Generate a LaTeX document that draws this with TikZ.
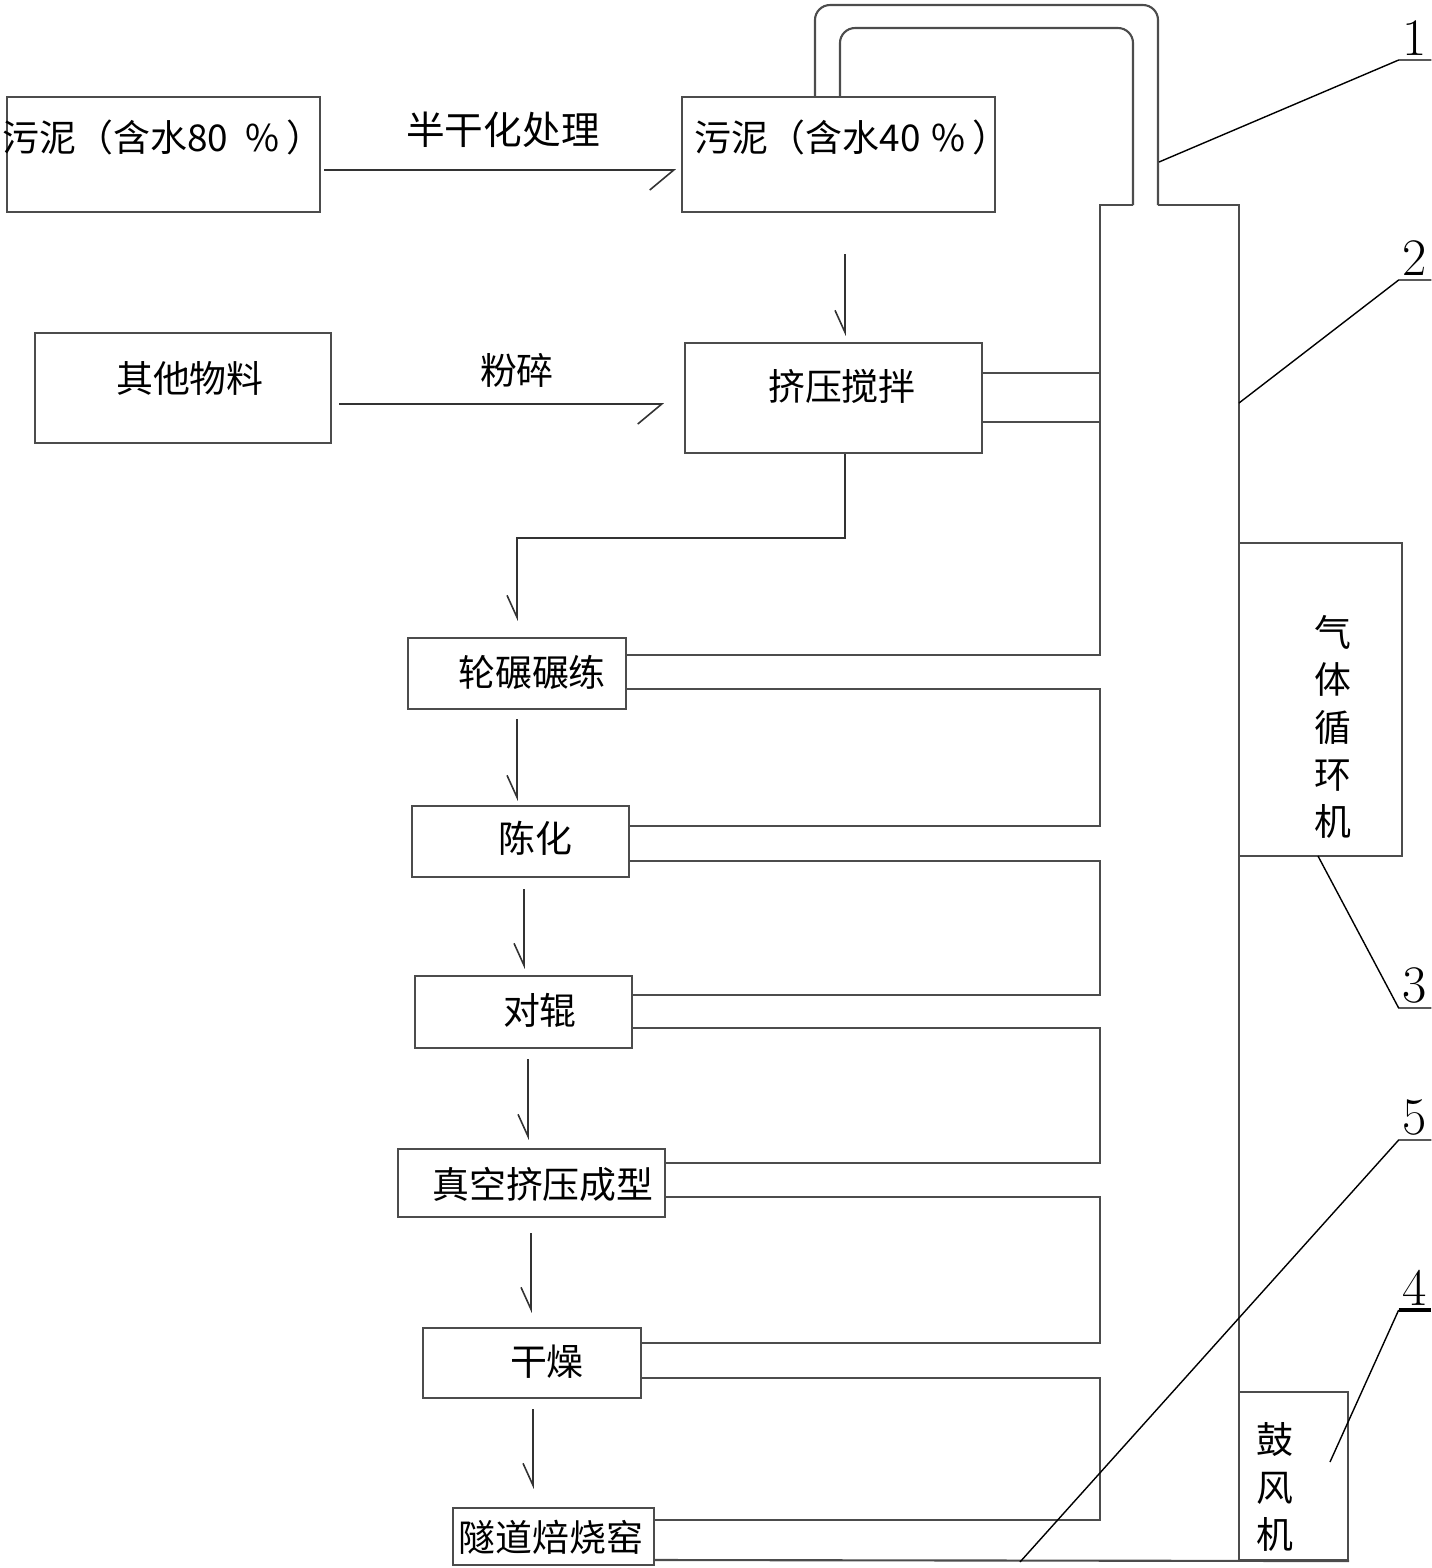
\documentclass[tikz,border=0pt]{standalone}
\usepackage{fontspec}
\usepackage{tikz}
\usetikzlibrary{arrows.meta,fit}
\newfontfamily\cjk{Noto Sans CJK SC}

\begin{document}
\begin{tikzpicture}[x=0.01cm,y=-0.01cm,
  box/.style={draw=black!70,line width=0.6pt,inner sep=0pt},
  txt/.style={font=\cjk\fontsize{10.5}{13.4}\selectfont,inner sep=0pt},
  vtxt/.style={txt,align=center},
  pipe/.style={draw=black!70,line width=0.6pt},
  hflow/.style={draw=black!80,line width=0.45pt,-{Straight Barb[right,length=0.24cm,width=0.4cm]}},
  vflow/.style={draw=black!80,line width=0.45pt,-{Straight Barb[right,length=0.22cm,width=0.2cm]}},
  leader/.style={line width=0.4pt},
  num/.style={font=\fontsize{15}{15}\selectfont,inner sep=1pt,minimum width=0.3cm,anchor=south}]
  \useasboundingbox (0,0) rectangle (1432,1568);
  % process boxes
  \node[box,fit={(7,97) (320,212)}] (mud80) {};
  \node[txt] (mud80-t) at (163,137) {污泥（含水80\hspace{5pt}\%\hspace{2pt}）};
  \node[box,fit={(682,97) (995,212)}] (mud40) {};
  \node[txt] (mud40-t) at (852,137) {污泥（含水40\hspace{3pt}\%\hspace{2pt}）};
  \node[box,fit={(35,333) (331,443)}] (other) {};
  \node[txt] (other-t) at (190,378) {其他物料};
  \node[box,fit={(685,343) (982,453)}] (mix) {};
  \node[txt] (mix-t) at (842,386) {挤压搅拌};
  \node[box,fit={(408,638) (626,709)}] (roll) {};
  \node[txt] (roll-t) at (532,672) {轮碾碾练};
  \node[box,fit={(412,806) (629,877)}] (age) {};
  \node[txt] (age-t) at (535,838) {陈化};
  \node[box,fit={(415,976) (632,1048)}] (pair) {};
  \node[txt] (pair-t) at (540,1010) {对辊};
  \node[box,fit={(398,1149) (665,1217)}] (vac) {};
  \node[txt] (vac-t) at (543,1184) {真空挤压成型};
  \node[box,fit={(423,1328) (641,1398)}] (dry) {};
  \node[txt] (dry-t) at (547,1362) {干燥};
  \node[box,fit={(453,1508) (654,1565)}] (kiln) {};
  \node[txt] (kiln-t) at (551,1537) {隧道焙烧窑};
  \node[box,fit={(1239,543) (1402,856)}] (gas) {};
  \node[vtxt] (gas-t) at (1333,727) {气\\体\\循\\环\\机};
  \node[box,fit={(1239,1392) (1348,1560)}] (fan) {};
  \node[vtxt] (fan-t) at (1275,1487) {鼓\\风\\机};
  % flow arrows
  \draw[hflow,shorten <=0.03cm,shorten >=0.05cm] (mud80.east |- 0,170) -- (mud40.west |- 0,170);
  \node[txt,font=\cjk\fontsize{11}{13}\selectfont] (semi) at (503,130) {半干化处理};
  \draw[hflow,shorten <=0.07cm,shorten >=0.2cm] (other.east |- 0,404) -- (mix.west |- 0,404);
  \node[txt] (crush) at (517,370) {粉碎};
  \draw[vflow,shorten <=0.41cm,shorten >=0.06cm] (mud40.south -| 845,0) -- (mix.north -| 845,0);
  \draw[vflow,shorten >=0.16cm] (mix.south -| 845,0) |- (517,538) -- (roll.north -| 517,0);
  \draw[vflow,shorten <=0.09cm,shorten >=0.04cm] (roll.south -| 517,0) -- (age.north -| 517,0);
  \draw[vflow,shorten <=0.11cm,shorten >=0.06cm] (age.south -| 524,0) -- (pair.north -| 524,0);
  \draw[vflow,shorten <=0.10cm,shorten >=0.08cm] (pair.south -| 528,0) -- (vac.north -| 528,0);
  \draw[vflow,shorten <=0.15cm,shorten >=0.14cm] (vac.south -| 531,0) -- (dry.north -| 531,0);
  \draw[vflow,shorten <=0.10cm,shorten >=0.18cm] (dry.south -| 533,0) -- (kiln.north -| 533,0);
  % gas pipe and duct
  \draw[pipe,rounded corners=0.15cm] (mud40.north -| 815,0) -- (815,5) -- (1158,5) -- (1158,205);
  \draw[pipe] (1158,205) -- (1239,205) -- (1239,1560);
  \draw[pipe,rounded corners=0.15cm] (mud40.north -| 840,0) -- (840,28) -- (1133,28) -- (1133,205);
  \draw[pipe] (1133,205) -- (1100,205) -- (1100,655) -- (roll.east |- 0,655);
  \draw[pipe] (mix.east |- 0,373) -- (1100,373);
  \draw[pipe] (mix.east |- 0,422) -- (1100,422);
  \draw[pipe] (roll.east |- 0,689) -| (1100,826) -- (age.east |- 0,826);
  \draw[pipe] (age.east |- 0,861) -| (1100,995) -- (pair.east |- 0,995);
  \draw[pipe] (pair.east |- 0,1028) -| (1100,1163) -- (vac.east |- 0,1163);
  \draw[pipe] (vac.east |- 0,1197) -| (1100,1343) -- (dry.east |- 0,1343);
  \draw[pipe] (dry.east |- 0,1378) -| (1100,1520) -- (kiln.east |- 0,1520);
  \draw[pipe] (kiln.east |- 0,1560) -- (fan.south east);
  % part numbers
  \coordinate (p1) at (1159,162);
  \coordinate (p2) at (1239,403);
  \coordinate (p3) at (1318,856);
  \coordinate (p4) at (1330,1462);
  \coordinate (p5) at (1020,1562);
  \node[num] (n1) at (1415,60) {1};
  \node[num] (n2) at (1415,280) {2};
  \node[num] (n3) at (1415,1008) {3};
  \node[num] (n4) at (1415,1310) {4};
  \node[num] (n5) at (1415,1140) {5};
  \draw[leader] (p1) -- (n1.south west) -- (n1.south east);
  \draw[leader] (p2) -- (n2.south west) -- (n2.south east);
  \draw[leader] (p3) -- (n3.south west) -- (n3.south east);
  \draw[leader] (p5) -- (n5.south west) -- (n5.south east);
  \draw[leader] (p4) -- (n4.south west);
  \draw[line width=1.3pt] (n4.south west) -- (n4.south east);
\end{tikzpicture}
\end{document}
